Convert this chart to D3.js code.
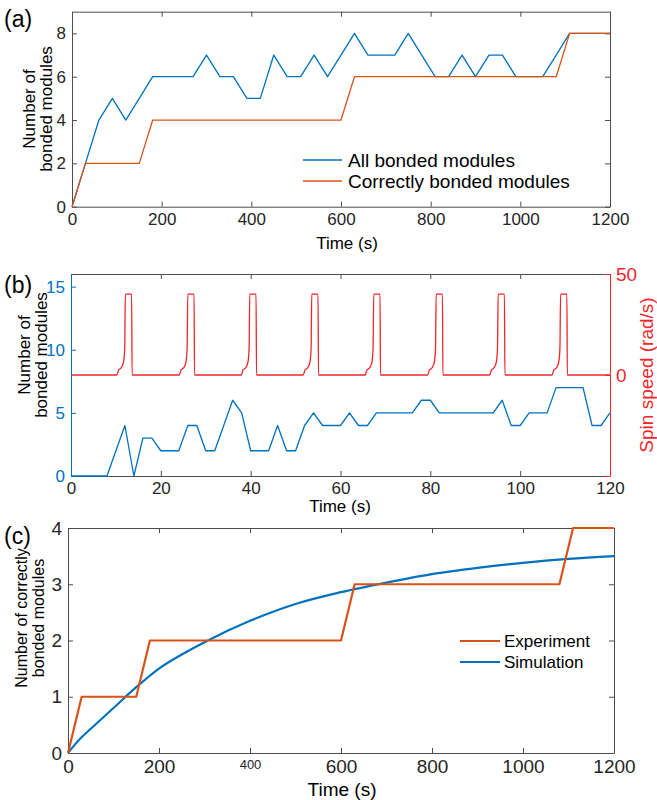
<!DOCTYPE html>
<meta charset="utf-8">
<head>
    <script src="https://d3js.org/d3.v7.min.js"></script>
    <title>Bonded modules</title>
</head>
<body>
    <div id="fig"></div>
</body>
<style>
    body {
        margin: 0;
        background: #fff;
        font-family: 'Liberation Sans', Arial, sans-serif;
    }
    .axis path, .axis line { stroke: #4d4d4d; }
    .axis text { fill: #262626; }
</style>
<script>
    // ---- panel (a): module counts, sampled every 30 s
    var timeA = [0, 30, 60, 90, 120, 150, 180, 210, 240, 270,
        300, 330, 360, 390, 420, 450, 480, 510, 540, 570,
        600, 630, 660, 690, 720, 750, 780, 810, 840, 870,
        900, 930, 960, 990, 1020, 1050, 1080, 1110, 1140, 1170, 1200];
    var allBonded = [0, 2, 4, 5, 4, 5, 6, 6, 6, 6,
        7, 6, 6, 5, 5, 7, 6, 6, 7, 6,
        7, 8, 7, 7, 7, 8, 7, 6, 6, 7,
        6, 7, 7, 6, 6, 6, 7, 8, 8, 8, 8];
    var correctTime = [0, 30, 150, 180, 600, 630, 1080, 1110, 1200];
    var correctBonded = [0, 2, 2, 4, 4, 6, 6, 8, 8];
    var legendA = ["All bonded modules", "Correctly bonded modules"];

    // ---- panel (b): 2 s sampling + spin speed
    var timeB = [0, 2, 4, 6, 8, 10, 12, 14, 16, 18,
        20, 22, 24, 26, 28, 30, 32, 34, 36, 38,
        40, 42, 44, 46, 48, 50, 52, 54, 56, 58,
        60, 62, 64, 66, 68, 70, 72, 74, 76, 78,
        80, 82, 84, 86, 88, 90, 92, 94, 96, 98,
        100, 102, 104, 106, 108, 110, 112, 114, 116, 118, 120];
    var bondedB = [0, 0, 0, 0, 0, 2, 4, 0, 3, 3,
        2, 2, 2, 4, 4, 2, 2, 4, 6, 5,
        2, 2, 2, 4, 2, 2, 4, 5, 4, 4,
        4, 5, 4, 4, 5, 5, 5, 5, 5, 6,
        6, 5, 5, 5, 5, 5, 5, 5, 6, 4,
        4, 5, 5, 5, 7, 7, 7, 7, 4, 4, 5];
    var spinTime = [0,
        10.2, 10.6, 10.9, 11.3, 11.7, 11.95, 12.1, 13.5, 13.6,
        24.1, 24.5, 24.8, 25.2, 25.6, 25.85, 26.0, 27.4, 27.5,
        37.9, 38.3, 38.6, 39.0, 39.4, 39.65, 39.8, 41.2, 41.3,
        51.7, 52.1, 52.4, 52.8, 53.2, 53.45, 53.6, 55.0, 55.1,
        65.5, 65.9, 66.2, 66.6, 67.0, 67.25, 67.4, 68.8, 68.9,
        79.4, 79.8, 80.1, 80.5, 80.9, 81.15, 81.3, 82.7, 82.8,
        93.2, 93.6, 93.9, 94.3, 94.7, 94.95, 95.1, 96.5, 96.6,
        107.1, 107.5, 107.8, 108.2, 108.6, 108.85, 109.0, 110.4, 110.5,
        120];
    var spinSpeed = [0,
        0, 2.5, 3, 4, 6.5, 13, 40, 40, 0,
        0, 2.5, 3, 4, 6.5, 13, 40, 40, 0,
        0, 2.5, 3, 4, 6.5, 13, 40, 40, 0,
        0, 2.5, 3, 4, 6.5, 13, 40, 40, 0,
        0, 2.5, 3, 4, 6.5, 13, 40, 40, 0,
        0, 2.5, 3, 4, 6.5, 13, 40, 40, 0,
        0, 2.5, 3, 4, 6.5, 13, 40, 40, 0,
        0, 2.5, 3, 4, 6.5, 13, 40, 40, 0,
        0];

    // ---- panel (c): experiment vs simulation
    var expTime = [0, 30, 150, 180, 600, 630, 1080, 1110, 1200];
    var expCount = [0, 1, 1, 2, 2, 3, 3, 4, 4];
    var simTime = [0, 10, 25, 50, 100, 150, 200, 250, 300, 400, 500, 600, 700, 800, 900, 1000, 1100, 1200];
    var simCount = [0, 0.1, 0.24, 0.43, 0.8, 1.17, 1.5, 1.75, 1.97, 2.35, 2.65, 2.86, 3.03, 3.18, 3.29, 3.38, 3.45, 3.5];
    var legendC = ["Experiment", "Simulation"];

    var blue = "#0072BD", orange = "#D95319", red = "#F0262B";
    var fmt = d3.format("d");

    var svg = d3.select("#fig")
        .append("svg")
        .attr("width", 657)
        .attr("height", 800);

    function zip(xs, ys) {
        return xs.map(function (t, i) { return [t, ys[i]]; });
    }

    // boxed MATLAB-style frame with inward ticks
    function frame(x, y, opt) {
        var g = svg.append("g");
        var r = x.range(), b = y.range();
        var ax = g.append("g").attr("class", "axis")
            .attr("transform", "translate(0," + b[0] + ")")
            .call(d3.axisBottom(x).tickValues(opt.xticks).tickFormat(fmt)
                .tickSizeInner(-5).tickSizeOuter(0).tickPadding(opt.xpad || 6));
        ax.selectAll("text").style("font-size", opt.tickFont + "px");
        g.append("g").attr("class", "axis")
            .attr("transform", "translate(0," + b[1] + ")")
            .call(d3.axisTop(x).tickValues(opt.xticks).tickSizeInner(-5).tickSizeOuter(0).tickFormat(""));
        if (!opt.noLeft) {
            var ay = g.append("g").attr("class", "axis")
                .attr("transform", "translate(" + r[0] + ",0)")
                .call(d3.axisLeft(y).tickValues(opt.yticks).tickFormat(fmt)
                    .tickSizeInner(-5).tickSizeOuter(0).tickPadding(6));
            ay.selectAll("text").style("font-size", opt.tickFont + "px");
            g.append("g").attr("class", "axis")
                .attr("transform", "translate(" + r[1] + ",0)")
                .call(d3.axisRight(y).tickValues(opt.yticks).tickSizeInner(-5).tickSizeOuter(0).tickFormat(""));
        }
        return { g: g, xAxis: ax };
    }

    function yLabel(lines, cx, cy, size, gap) {
        var t = svg.append("text")
            .attr("transform", "translate(" + cx + "," + cy + ") rotate(-90)")
            .attr("text-anchor", "middle")
            .style("font-size", size + "px")
            .attr("fill", "#000");
        lines.forEach(function (s, i) {
            t.append("tspan").attr("x", 0).attr("y", i * gap).text(s);
        });
    }

    function plainText(s, x, y, size, anchor, color) {
        svg.append("text")
            .attr("x", x).attr("y", y)
            .attr("text-anchor", anchor || "start")
            .style("font-size", size + "px")
            .attr("fill", color || "#000")
            .text(s);
    }

    function drawLine(x, y, pts, color, width, curve) {
        svg.append("path")
            .datum(pts)
            .attr("fill", "none")
            .attr("stroke", color)
            .attr("stroke-width", width)
            .attr("stroke-linejoin", "round")
            .attr("d", d3.line()
                .curve(curve || d3.curveLinear)
                .x(function (d) { return x(d[0]); })
                .y(function (d) { return y(d[1]); }));
    }

    // ================= (a)
    var xA = d3.scaleLinear().domain([0, 1200]).range([72, 610]);
    var yA = d3.scaleLinear().domain([0, 9]).range([206.7, 11.7]);
    frame(xA, yA, { xticks: [0, 200, 400, 600, 800, 1000, 1200], yticks: [0, 2, 4, 6, 8], tickFont: 17 });
    drawLine(xA, yA, zip(timeA, allBonded), blue, 1.3);
    drawLine(xA, yA, zip(correctTime, correctBonded), orange, 1.3);
    plainText("(a)", 4, 27, 23);
    yLabel(["Number of", "bonded modules"], 35, 109, 17, 17);
    plainText("Time (s)", 347, 249, 17, "middle");
    [blue, orange].forEach(function (c, i) {
        svg.append("line").attr("x1", 303).attr("x2", 342)
            .attr("y1", 160 + i * 21).attr("y2", 160 + i * 21)
            .attr("stroke", c).attr("stroke-width", 1.3);
        plainText(legendA[i], 348, 167 + i * 21, 19);
    });

    // ================= (b)
    var xB = d3.scaleLinear().domain([0, 120]).range([71, 610]);
    var yB = d3.scaleLinear().domain([0, 16]).range([476, 274]);
    var ySpin = d3.scaleLinear().domain([-50, 50]).range([476, 274]);
    frame(xB, yB, { xticks: [0, 20, 40, 60, 80, 100, 120], tickFont: 17, noLeft: true });
    drawLine(xB, ySpin, zip(spinTime, spinSpeed), red, 1.3, d3.curveMonotoneX);
    drawLine(xB, yB, zip(timeB, bondedB), blue, 1.3);
    var lb = svg.append("g").attr("transform", "translate(71,0)")
        .call(d3.axisLeft(yB).tickValues([0, 5, 10, 15]).tickSizeInner(-5).tickSizeOuter(0).tickPadding(6));
    lb.selectAll("path, line").attr("stroke", blue);
    lb.selectAll("text").attr("fill", blue).style("font-size", "17px");
    var rb = svg.append("g").attr("transform", "translate(610,0)")
        .call(d3.axisRight(ySpin).tickValues([-50, 0, 50]).tickSizeInner(-5).tickSizeOuter(0).tickPadding(6)
            .tickFormat(function (d) { return d < 0 ? "" : d; }));
    rb.selectAll("path, line").attr("stroke", red);
    rb.selectAll("text").attr("fill", red).style("font-size", "19px");
    plainText("(b)", 4, 293, 23);
    yLabel(["Number of", "bonded modules"], 30, 355, 17, 17);
    svg.append("text")
        .attr("transform", "translate(653,375) rotate(-90)")
        .attr("text-anchor", "middle")
        .style("font-size", "19px")
        .attr("fill", red)
        .text("Spin speed (rad/s)");
    plainText("Time (s)", 340, 512, 17, "middle");

    // ================= (c)
    var xC = d3.scaleLinear().domain([0, 1200]).range([68, 614]);
    var yC = d3.scaleLinear().domain([0, 4]).range([753, 528]);
    var fc = frame(xC, yC, { xticks: [0, 200, 400, 600, 800, 1000, 1200], yticks: [0, 1, 2, 3, 4], tickFont: 19, xpad: 7 });
    // the 400 label is set smaller in the original figure
    fc.xAxis.selectAll(".tick").filter(function (d) { return d == 400; })
        .select("text").style("font-size", "13px");
    drawLine(xC, yC, zip(simTime, simCount), blue, 2.2, d3.curveMonotoneX);
    drawLine(xC, yC, zip(expTime, expCount), orange, 2.2);
    plainText("(c)", 4, 544, 23);
    yLabel(["Number of correctly", "bonded modules"], 27, 618, 16, 17);
    plainText("Time (s)", 342, 796, 19, "middle");
    [orange, blue].forEach(function (c, i) {
        svg.append("line").attr("x1", 460).attr("x2", 500)
            .attr("y1", 641 + i * 21).attr("y2", 641 + i * 21)
            .attr("stroke", c).attr("stroke-width", 2.2);
        plainText(legendC[i], 504, 647 + i * 21, 17);
    });
</script>
